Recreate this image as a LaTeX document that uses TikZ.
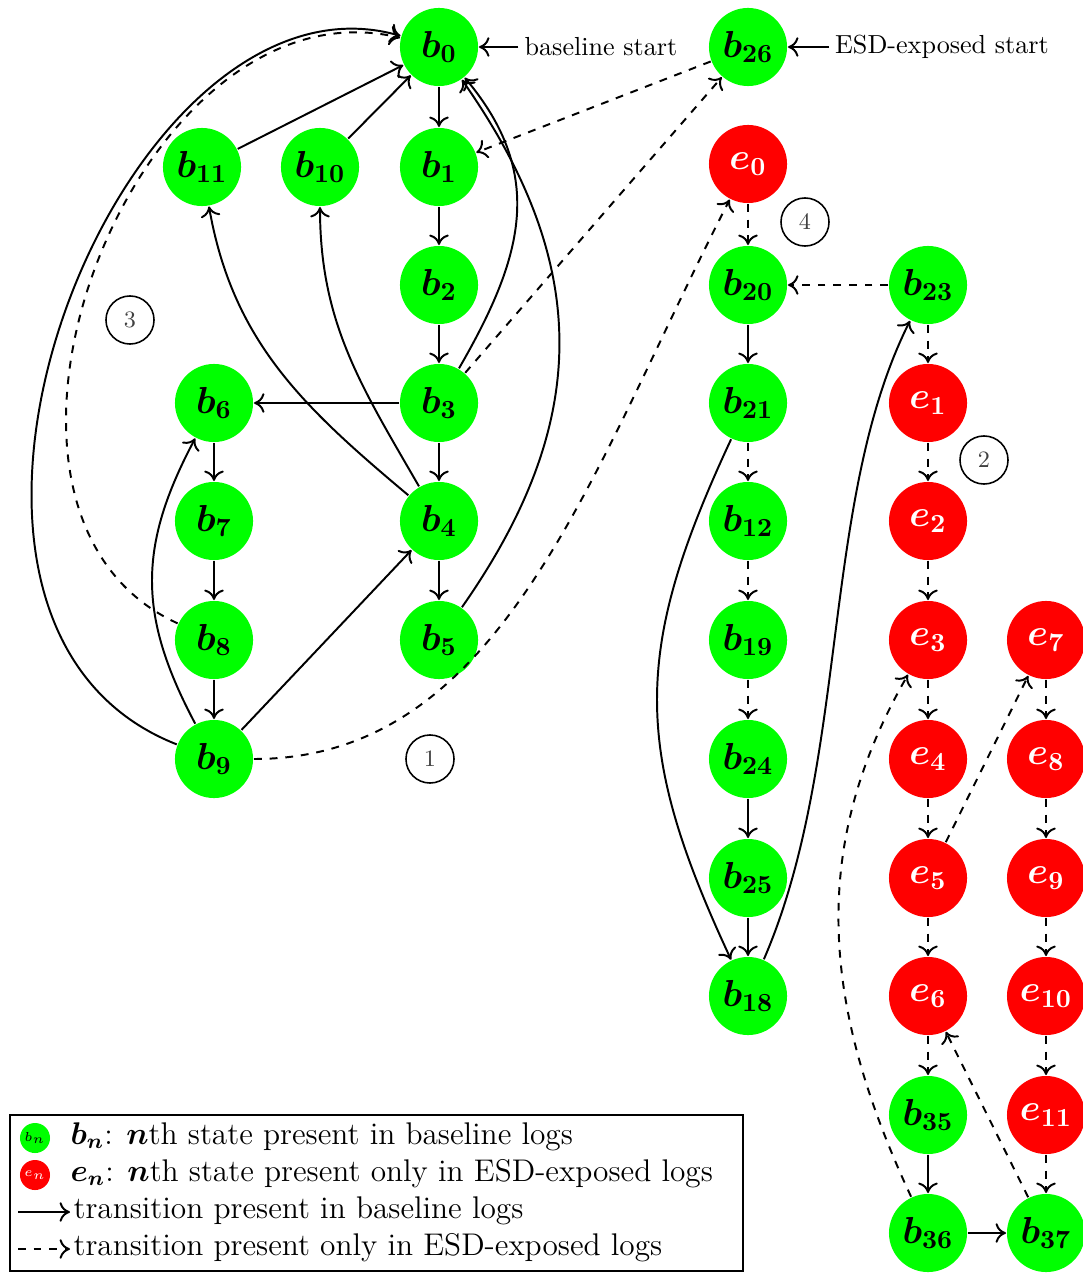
\documentclass[tikz,border=0pt]{standalone}
\usepackage{amsmath,amssymb}
\usetikzlibrary{arrows.meta}
\definecolor{bgreen}{RGB}{0,255,0}
\definecolor{ered}{RGB}{255,0,0}
\newcommand{\myb}[1]{$\boldsymbol{b_{#1}}$}
\newcommand{\mye}[1]{$\boldsymbol{e_{#1}}$}
\begin{document}
\begin{tikzpicture}[x=0.383pt, y=-0.383pt, line width=0.75pt,
  >={To[length=4pt, width=7.5pt]},
  st/.style={circle, inner sep=0pt, minimum size=29.9pt, font=\Large},
  bn/.style={st, fill=bgreen, text=black},
  en/.style={st, fill=ered, text=white},
  base/.style={->},
  esd/.style={->, dashed},
  num/.style={circle, draw, line width=0.6pt, minimum size=18.4pt, inner sep=0pt, font=\small, text=black!75},
  legtext/.style={anchor=west, font=\large, inner sep=1pt, text height=1.6ex, text depth=0.5ex}]
\useasboundingbox (0,0) rectangle (1083,1273);

% states
\node[bn] (b0) at (439,47) {\myb{0}};
\node[bn] (b26) at (748,47) {\myb{26}};
\node[bn] (b11) at (202,167) {\myb{11}};
\node[bn] (b10) at (320,167) {\myb{10}};
\node[bn] (b1) at (439,167) {\myb{1}};
\node[en] (e0) at (748,164) {\mye{0}};
\node[bn] (b2) at (439,285) {\myb{2}};
\node[bn] (b20) at (748,285) {\myb{20}};
\node[bn] (b23) at (928,285) {\myb{23}};
\node[bn] (b6) at (214,403) {\myb{6}};
\node[bn] (b3) at (439,403) {\myb{3}};
\node[bn] (b21) at (748,403) {\myb{21}};
\node[en] (e1) at (928,403) {\mye{1}};
\node[bn] (b7) at (214,521) {\myb{7}};
\node[bn] (b4) at (439,521) {\myb{4}};
\node[bn] (b12) at (748,521) {\myb{12}};
\node[en] (e2) at (928,521) {\mye{2}};
\node[bn] (b8) at (214,640) {\myb{8}};
\node[bn] (b5) at (439,640) {\myb{5}};
\node[bn] (b19) at (748,640) {\myb{19}};
\node[en] (e3) at (928,640) {\mye{3}};
\node[en] (e7) at (1046,640) {\mye{7}};
\node[bn] (b9) at (214,759) {\myb{9}};
\node[bn] (b24) at (748,759) {\myb{24}};
\node[en] (e4) at (928,759) {\mye{4}};
\node[en] (e8) at (1046,759) {\mye{8}};
\node[bn] (b25) at (748,878) {\myb{25}};
\node[en] (e5) at (928,878) {\mye{5}};
\node[en] (e9) at (1046,878) {\mye{9}};
\node[bn] (b18) at (748,996) {\myb{18}};
\node[en] (e6) at (928,996) {\mye{6}};
\node[en] (e10) at (1046,996) {\mye{10}};
\node[bn] (b35) at (928,1115) {\myb{35}};
\node[en] (e11) at (1046,1115) {\mye{11}};
\node[bn] (b36) at (928,1233) {\myb{36}};
\node[bn] (b37) at (1046,1233) {\myb{37}};

% start labels
\node[inner sep=2pt] (bs) at (601,47) {baseline start};
\node[inner sep=2pt] (es) at (942,47) {ESD-exposed start};
\draw[base] (bs) -- (b0);
\draw[base] (es) -- (b26);

% circled numbers
\node[num] (n1) at (430,759) {1};
\node[num] (n2) at (984,460) {2};
\node[num] (n3) at (130,320) {3};
\node[num] (n4) at (805,222) {4};

% baseline transitions
\draw[base] (b0) -- (b1);
\draw[base] (b1) -- (b2);
\draw[base] (b2) -- (b3);
\draw[base] (b3) -- (b4);
\draw[base] (b4) -- (b5);
\draw[base] (b3) -- (b6);
\draw[base] (b6) -- (b7);
\draw[base] (b7) -- (b8);
\draw[base] (b8) -- (b9);
\draw[base] (b11) -- (b0);
\draw[base] (b10) -- (b0);
\draw[base] (b9) -- (b4);
\draw[base] (b9) to[out=118, in=-118, looseness=1.1] (b6);
\draw[base] (b4) to[out=140, in=-80] (b11);
\draw[base] (b4) to[out=120, in=-90] (b10);
\draw[base] (b3) to[out=60, in=-50, looseness=1.12] (b0);
\draw[base] (b5) to[out=55, in=-55, looseness=1.1] (b0);
\draw[base] (b9) .. controls (-140,620) and (120,-45) .. (b0);
\draw[base] (b20) -- (b21);
\draw[base] (b21) to[out=-115, in=115, looseness=1.15] (b18);
\draw[base] (b18) .. controls (850,760) and (820,500) .. (b23);
\draw[base] (b24) -- (b25);
\draw[base] (b25) -- (b18);
\draw[base] (b35) -- (b36);
\draw[base] (b36) -- (b37);

% ESD-only transitions
\draw[esd] (b8) .. controls (-70,510) and (135,-25) .. (b0);
\draw[esd] (b26) -- (b1);
\draw[esd] (b3) -- (b26);
\draw[esd] (b9) .. controls (503,759) and (590,471) .. (e0);
\draw[esd] (e0) -- (b20);
\draw[esd] (b23) -- (b20);
\draw[esd] (b23) -- (e1);
\draw[esd] (e1) -- (e2);
\draw[esd] (e2) -- (e3);
\draw[esd] (e3) -- (e4);
\draw[esd] (e4) -- (e5);
\draw[esd] (e5) -- (e6);
\draw[esd] (e6) -- (b35);
\draw[esd] (b21) -- (b12);
\draw[esd] (b12) -- (b19);
\draw[esd] (b19) -- (b24);
\draw[esd] (e5) -- (e7);
\draw[esd] (e7) -- (e8);
\draw[esd] (e8) -- (e9);
\draw[esd] (e9) -- (e10);
\draw[esd] (e10) -- (e11);
\draw[esd] (e11) -- (b37);
\draw[esd] (b36) to[out=115, in=-120] (e3);
\draw[esd] (b37) -- (e6);

% legend
\draw[line width=0.6pt] (10,1115) rectangle (743,1271);
\node[bn, minimum size=11.5pt, font=\tiny] (lb) at (35,1138) {$b_n$};
\node[en, minimum size=11.5pt, font=\tiny] (le) at (35,1175) {$e_n$};
\node[legtext] (lt1) at (67,1138) {$\boldsymbol{b_n}$: $\boldsymbol{n}$th state present in baseline logs};
\node[legtext] (lt2) at (67,1175) {$\boldsymbol{e_n}$: $\boldsymbol{n}$th state present only in ESD-exposed logs};
\node[legtext] (lt3) at (70,1212) {transition present in baseline logs};
\node[legtext] (lt4) at (70,1249) {transition present only in ESD-exposed logs};
\coordinate (la3) at (18,1212);
\coordinate (la4) at (18,1249);
\draw[base] (la3) -- (lt3);
\draw[esd] (la4) -- (lt4);
\end{tikzpicture}
\end{document}
